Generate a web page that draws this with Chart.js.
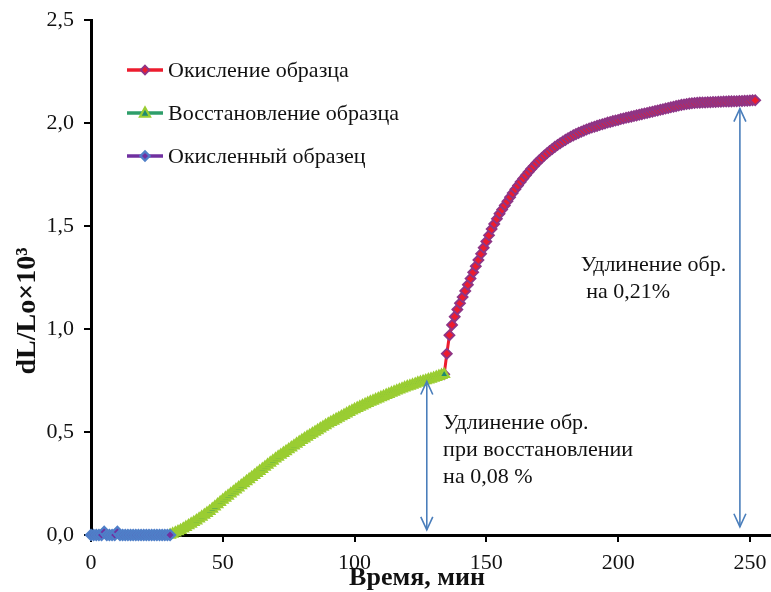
<!DOCTYPE html>
<html>
<head>
<meta charset="utf-8">
<script src="https://cdn.jsdelivr.net/npm/chart.js@4.4.1/dist/chart.umd.min.js"></script>
<style>
  html, body { margin: 0; padding: 0; background: #ffffff; }
  canvas { display: block; }
</style>
</head>
<body>
<canvas id="chart" width="771" height="592"></canvas>
<script>
// ---- data -------------------------------------------------------------
const seriesNames = ['Окисление образца', 'Восстановление образца', 'Окисленный образец'];

// Окисленный образец (исходное состояние), мин / dL/Lo×10³
const baseTime = [0, 1, 2, 3, 4, 5, 6, 7, 8, 9, 10, 11, 12, 13, 14, 15, 16, 17, 18, 19, 20,
                  21, 22, 23, 24, 25, 26, 27, 28, 29, 30];
const baseValue = [0, 0, 0, 0, 0, 0.015, 0, 0, 0, 0, 0.015, 0, 0, 0, 0, 0, 0, 0, 0, 0, 0,
                   0, 0, 0, 0, 0, 0, 0, 0, 0, 0];

// Восстановление образца
const redTime = [30, 31, 32, 33, 34, 35, 36, 37, 38, 39, 40, 41, 42, 43, 44, 45, 46, 47, 48, 49,
                 50, 51, 52, 53, 54, 55, 56, 57, 58, 59, 60, 61, 62, 63, 64, 65, 66, 67, 68, 69,
                 70, 71, 72, 73, 74, 75, 76, 77, 78, 79, 80, 81, 82, 83, 84, 85, 86, 87, 88, 89,
                 90, 91, 92, 93, 94, 95, 96, 97, 98, 99, 100, 101, 102, 103, 104, 105, 106, 107, 108, 109,
                 110, 111, 112, 113, 114, 115, 116, 117, 118, 119, 120, 121, 122, 123, 124, 125, 126, 127, 128, 129,
                 130, 131, 132, 133, 134];
const redValue = [0.000, 0.005, 0.011, 0.017, 0.023, 0.030, 0.038, 0.046, 0.054, 0.062,
                  0.070, 0.079, 0.088, 0.097, 0.106, 0.115, 0.126, 0.137, 0.148, 0.159,
                  0.170, 0.180, 0.190, 0.200, 0.210, 0.220, 0.230, 0.240, 0.250, 0.260,
                  0.270, 0.280, 0.290, 0.300, 0.310, 0.320, 0.330, 0.340, 0.350, 0.360,
                  0.370, 0.379, 0.388, 0.397, 0.406, 0.415, 0.424, 0.433, 0.442, 0.451,
                  0.460, 0.468, 0.476, 0.484, 0.492, 0.500, 0.508, 0.516, 0.524, 0.532,
                  0.540, 0.547, 0.554, 0.561, 0.568, 0.575, 0.582, 0.589, 0.596, 0.603,
                  0.610, 0.616, 0.622, 0.628, 0.634, 0.640, 0.646, 0.651, 0.657, 0.662,
                  0.668, 0.673, 0.679, 0.684, 0.690, 0.695, 0.700, 0.705, 0.710, 0.715,
                  0.720, 0.724, 0.729, 0.733, 0.738, 0.742, 0.746, 0.750, 0.754, 0.758,
                  0.762, 0.766, 0.771, 0.776, 0.780];

// Окисление образца
const oxTime = [134, 135, 136, 137, 138, 139, 140, 141, 142, 143, 144, 145, 146, 147, 148, 149,
                150, 151, 152, 153, 154, 155, 156, 157, 158, 159, 160, 161, 162, 163, 164, 165, 166, 167, 168, 169,
                170, 171, 172, 173, 174, 175, 176, 177, 178, 179, 180, 181, 182, 183, 184, 185, 186, 187, 188, 189,
                190, 191, 192, 193, 194, 195, 196, 197, 198, 199, 200, 201, 202, 203, 204, 205, 206, 207, 208, 209,
                210, 211, 212, 213, 214, 215, 216, 217, 218, 219, 220, 221, 222, 223, 224, 225, 226, 227, 228, 229,
                230, 231, 232, 233, 234, 235, 236, 237, 238, 239, 240, 241, 242, 243, 244, 245, 246, 247, 248, 249,
                250, 251, 252];
const oxValue = [0.780, 0.880, 0.970, 1.020, 1.060, 1.095, 1.125, 1.155, 1.185, 1.215, 1.245, 1.275, 1.305, 1.335, 1.365, 1.395,
                 1.425, 1.455, 1.485, 1.510, 1.535, 1.560, 1.580, 1.600, 1.620, 1.640, 1.660, 1.678, 1.696, 1.714, 1.730, 1.746, 1.762, 1.777, 1.791, 1.805,
                 1.818, 1.830, 1.842, 1.853, 1.864, 1.874, 1.884, 1.893, 1.902, 1.910, 1.918, 1.926, 1.933, 1.940, 1.946, 1.952, 1.958, 1.963, 1.968, 1.973,
                 1.978, 1.982, 1.986, 1.990, 1.994, 1.998, 2.002, 2.005, 2.009, 2.012, 2.015, 2.019, 2.022, 2.025, 2.028, 2.031, 2.034, 2.037, 2.040, 2.043,
                 2.046, 2.049, 2.052, 2.055, 2.058, 2.061, 2.064, 2.067, 2.070, 2.073, 2.076, 2.079, 2.082, 2.085, 2.088, 2.090, 2.092, 2.094, 2.096, 2.097,
                 2.098, 2.099, 2.100, 2.100, 2.101, 2.101, 2.102, 2.102, 2.103, 2.103, 2.104, 2.104, 2.105, 2.105, 2.106, 2.106, 2.107, 2.107, 2.108, 2.108,
                 2.109, 2.110, 2.110];

const xTickValues = [0, 50, 100, 150, 200, 250];
const xTickLabels = ['0', '50', '100', '150', '200', '250'];
const yTickValues = [0, 0.5, 1.0, 1.5, 2.0, 2.5];
const yTickLabels = ['0,0', '0,5', '1,0', '1,5', '2,0', '2,5'];
const xTitle = 'Время, мин';
const yTitle = 'dL/Lo×10³';

// Удлинение образца: стрелки (время, от, до) и подписи
const gapTime = [127.4, 246.2];
const gapFrom = [0.025, 0.04];
const gapTo = [0.745, 2.07];
const noteText = [['Удлинение обр.', 'при восстановлении', 'на 0,08 %'],
                  ['Удлинение обр.', ' на 0,21%']];

// ---- styles -------------------------------------------------------------
const SERIF = '"Liberation Serif", "Times New Roman", serif';
const ARROW_BLUE = '#4A7EBB';
const TEXT_COLOR = '#111111';
const noteAnchor = [{ x: 133.6, y: 0.545 }, { x: 185.8, y: 1.31 }];
const NOTE_LINE_H = 27;

const toPoints = (t, v) => t.map((x, i) => ({ x: x, y: v[i] }));

const datasets = [
  {
    label: seriesNames[0],
    data: toPoints(oxTime, oxValue),
    borderColor: '#ED1C2E', borderWidth: 3,
    pointStyle: 'rectRot', pointRadius: 5,
    pointBackgroundColor: '#ED1C2E', pointBorderColor: '#8E3586', pointBorderWidth: 1.8,
    order: 3
  },
  {
    label: seriesNames[1],
    data: toPoints(redTime, redValue),
    borderColor: '#2E9E6A', borderWidth: 3,
    pointStyle: 'triangle', pointRadius: 5.4,
    pointBackgroundColor: '#1F8A70', pointBorderColor: '#9ACD32', pointBorderWidth: 2.2,
    order: 2
  },
  {
    label: seriesNames[2],
    data: toPoints(baseTime, baseValue),
    borderColor: '#7030A0', borderWidth: 3,
    pointStyle: 'rectRot', pointRadius: 5,
    pointBackgroundColor: '#7030A0', pointBorderColor: '#4F7FC8', pointBorderWidth: 2.2,
    order: 1
  }
];
datasets.forEach(d => { d.clip = false; d.tension = 0; d.fill = false; });

// legend marker sizes (a little smaller than on the curves)
const legendMarkerRadius = [4.4, 5, 4.6];

// draws one marker shape in the legend
function drawMarker(ctx, ds, r, x, y) {
  ctx.beginPath();
  if (ds.pointStyle === 'triangle') {
    ctx.moveTo(x, y - r * 1.1);
    ctx.lineTo(x + r, y + r * 0.75);
    ctx.lineTo(x - r, y + r * 0.75);
  } else {
    ctx.moveTo(x, y - r);
    ctx.lineTo(x + r, y);
    ctx.lineTo(x, y + r);
    ctx.lineTo(x - r, y);
  }
  ctx.closePath();
  ctx.fillStyle = ds.pointBackgroundColor;
  ctx.fill();
  ctx.lineWidth = ds.pointBorderWidth;
  ctx.strokeStyle = ds.pointBorderColor;
  ctx.stroke();
}

// legend inside the plot, top-left
const insideLegend = {
  id: 'insideLegend',
  afterDraw(chart) {
    const { ctx, chartArea } = chart;
    const rows = [50, 93, 136];
    ctx.save();
    datasets.forEach((ds, i) => {
      const y = chartArea.top + rows[i];
      const x0 = chartArea.left + 36, x1 = chartArea.left + 72;
      ctx.beginPath();
      ctx.moveTo(x0, y);
      ctx.lineTo(x1, y);
      ctx.lineWidth = 3.5;
      ctx.strokeStyle = ds.borderColor;
      ctx.stroke();
      drawMarker(ctx, ds, legendMarkerRadius[i], (x0 + x1) / 2, y);
      ctx.fillStyle = TEXT_COLOR;
      ctx.font = '22px ' + SERIF;
      ctx.textBaseline = 'middle';
      ctx.textAlign = 'left';
      ctx.fillText(ds.label, chartArea.left + 77, y + 1);
    });
    ctx.restore();
  }
};

// axis titles: bold serif, placed beside the axes
const axisTitles = {
  id: 'axisTitles',
  afterDraw(chart) {
    const { ctx, chartArea } = chart;
    ctx.save();
    ctx.fillStyle = TEXT_COLOR;
    ctx.textAlign = 'center';
    ctx.textBaseline = 'middle';
    ctx.font = 'bold 26px ' + SERIF;
    ctx.fillText(xTitle, chartArea.left + 326, chartArea.bottom + 43);
    ctx.translate(28, chartArea.top + 291);
    ctx.rotate(-Math.PI / 2);
    ctx.font = 'bold 28px ' + SERIF;
    ctx.fillText(yTitle, 0, 0);
    ctx.restore();
  }
};

function arrowHead(ctx, x, y, dir) {
  ctx.beginPath();
  ctx.moveTo(x - 6, y + dir * 13);
  ctx.lineTo(x, y);
  ctx.lineTo(x + 6, y + dir * 13);
  ctx.stroke();
}

// elongation arrows and their notes
const elongationNotes = {
  id: 'elongationNotes',
  afterDatasetsDraw(chart) {
    const { ctx, scales } = chart;
    ctx.save();
    ctx.strokeStyle = ARROW_BLUE;
    ctx.lineWidth = 1.6;
    gapTime.forEach((t, i) => {
      const x = scales.x.getPixelForValue(t);
      const yb = scales.y.getPixelForValue(gapFrom[i]);
      const yt = scales.y.getPixelForValue(gapTo[i]);
      ctx.beginPath();
      ctx.moveTo(x, yb);
      ctx.lineTo(x, yt);
      ctx.stroke();
      arrowHead(ctx, x, yt, 1);
      arrowHead(ctx, x, yb, -1);
    });
    ctx.fillStyle = TEXT_COLOR;
    ctx.font = '22px ' + SERIF;
    ctx.textBaseline = 'middle';
    ctx.textAlign = 'left';
    noteText.forEach((lines, i) => {
      const x = scales.x.getPixelForValue(noteAnchor[i].x);
      const y = scales.y.getPixelForValue(noteAnchor[i].y);
      lines.forEach((s, k) => ctx.fillText(s, x, y + k * NOTE_LINE_H));
    });
    ctx.restore();
  }
};

new Chart(document.getElementById('chart'), {
  type: 'line',
  data: { datasets: datasets },
  plugins: [insideLegend, elongationNotes, axisTitles],
  options: {
    responsive: false,
    animation: false,
    devicePixelRatio: 1,
    layout: { autoPadding: false, padding: { top: 20, left: 0, right: 0, bottom: 0 } },
    plugins: { legend: { display: false }, tooltip: { enabled: false } },
    elements: { line: { borderJoinStyle: 'round' } },
    scales: {
      x: {
        type: 'linear', min: 0, max: 258,
        border: { display: true, color: '#000', width: 3 },
        grid: { drawOnChartArea: false, drawTicks: true, tickLength: 7, color: '#000', lineWidth: 2 },
        afterBuildTicks(s) { s.ticks = xTickValues.map(v => ({ value: v })); },
        ticks: {
          padding: 8, color: TEXT_COLOR, maxRotation: 0, autoSkip: false,
          font: { family: SERIF, size: 22 },
          callback: (v) => xTickLabels[xTickValues.indexOf(v)]
        },
        title: { display: false },
        afterFit(s) { s.height = 57; s.paddingLeft = 0; s.paddingRight = 0; }
      },
      y: {
        type: 'linear', min: 0, max: 2.5,
        border: { display: true, color: '#000', width: 3 },
        grid: { drawOnChartArea: false, drawTicks: true, tickLength: 7, color: '#000', lineWidth: 2 },
        afterBuildTicks(s) { s.ticks = yTickValues.map(v => ({ value: v })); },
        ticks: {
          padding: 10, color: TEXT_COLOR,
          font: { family: SERIF, size: 22 },
          callback: (v) => yTickLabels[yTickValues.indexOf(v)]
        },
        title: { display: false },
        afterFit(s) { s.width = 91; s.paddingTop = 0; s.paddingBottom = 0; }
      }
    }
  }
});
</script>
</body>
</html>
